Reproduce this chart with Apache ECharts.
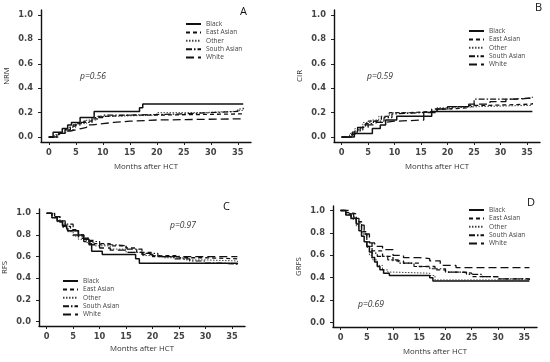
<!DOCTYPE html>
<html><head><meta charset="utf-8">
<script src="https://cdn.jsdelivr.net/npm/echarts@6/dist/echarts.min.js"></script>
<style>html,body{margin:0;padding:0;background:#fff}#c{width:550px;height:362px}</style>
</head><body><div id="c"></div>
<script>
const groups = ['Black', 'East Asian', 'Other', 'South Asian', 'White'];
const xTicks = [0, 5, 10, 15, 20, 25, 30, 35];
const yTicks = [0, 0.2, 0.4, 0.6, 0.8, 1.0];
const panelNames = ['NRM', 'CIR', 'RFS', 'GRFS'];
const panelLetters = ['A', 'B', 'C', 'D'];
const pValues = ['p=0.56', 'p=0.59', 'p=0.97', 'p=0.69'];
const xTitle = 'Months after HCT';

// Panel A: NRM  [month, value]
const nrmBlack = [[0,0],[0.8,0.04],[2.5,0.07],[3.5,0.1],[4.2,0.12],[5.8,0.16],[8.4,0.21],[16.8,0.24],[17.4,0.27],[36,0.27]];
const nrmEastAsian = [[0,0],[1.5,0.03],[3,0.06],[4,0.09],[5,0.11],[6.5,0.13],[8,0.15],[9,0.17],[11,0.18],[15,0.18],[20,0.19],[36,0.19]];
const nrmOther = [[0,0],[1,0.02],[2,0.04],[3.5,0.08],[5,0.11],[7,0.14],[9,0.17],[12,0.18],[20,0.2],[28,0.21],[34,0.22],[36,0.22]];
const nrmSouthAsian = [[0,0],[1.8,0.03],[3,0.06],[4.5,0.1],[6,0.12],[8,0.16],[10,0.18],[15,0.185],[20,0.19],[25,0.2],[30,0.21],[35,0.23],[36,0.24]];
const nrmWhite = [[0,0],[1,0.01],[2,0.03],[3,0.05],[4,0.06],[5,0.07],[6,0.08],[7,0.1],[8,0.11],[10,0.12],[12,0.13],[15,0.14],[20,0.15],[36,0.155]];

// Panel B: CIR
const cirBlack = [[0,0],[2.4,0.03],[5.8,0.07],[7.3,0.1],[8.3,0.14],[10.4,0.17],[17,0.21],[36,0.21]];
const cirEastAsian = [[0,0],[1.8,0.03],[3,0.06],[4,0.1],[5,0.13],[6.5,0.14],[7.5,0.17],[9,0.2],[13,0.21],[17,0.23],[20,0.24],[24,0.26],[28,0.27],[36,0.28]];
const cirOther = [[0,0],[1.5,0.03],[2.5,0.07],[4,0.12],[5.5,0.14],[7,0.17],[9,0.2],[14,0.21],[18,0.24],[22,0.25],[26,0.26],[36,0.26]];
const cirSouthAsian = [[0,0],[2,0.04],[3,0.08],[4.5,0.11],[6,0.13],[8,0.16],[9.5,0.19],[10,0.2],[15,0.21],[18,0.23],[21,0.25],[25,0.31],[28,0.31],[32,0.32],[36,0.33]];
const cirWhite = [[0,0],[1.5,0.02],[2.5,0.05],[3.5,0.08],[5,0.1],[6.5,0.12],[8,0.13],[10,0.14],[15.5,0.2],[18,0.23],[20,0.25],[24,0.27],[28,0.29],[31,0.31],[33,0.32],[36,0.32]];

// Panel C: RFS
const rfsBlack = [[0,1],[1,0.96],[2,0.93],[3,0.89],[3.8,0.86],[4,0.84],[6,0.8],[7,0.76],[8,0.72],[8.5,0.65],[10.5,0.62],[16.8,0.58],[17.5,0.54],[36,0.53]];
const rfsEastAsian = [[0,1],[1.5,0.97],[2.5,0.92],[3.5,0.88],[4.5,0.85],[6,0.8],[7,0.77],[8,0.75],[9,0.72],[12,0.7],[15,0.68],[17,0.64],[20,0.61],[25,0.59],[30,0.58],[36,0.57]];
const rfsOther = [[0,1],[1,0.96],[2,0.92],[3,0.87],[4,0.83],[5,0.79],[6,0.76],[7.5,0.73],[9,0.7],[12,0.67],[15,0.64],[18,0.61],[22,0.59],[26,0.57],[30,0.56],[36,0.55]];
const rfsSouthAsian = [[0,1],[1.5,0.97],[2.5,0.93],[3.5,0.9],[5,0.84],[6,0.79],[7,0.77],[8,0.74],[10,0.71],[13,0.7],[15,0.67],[18,0.63],[21,0.6],[24,0.58],[27,0.56],[30,0.54],[33,0.53],[36,0.52]];
const rfsWhite = [[0,1],[1,0.97],[2,0.93],[3,0.88],[4,0.84],[5,0.8],[6,0.77],[7,0.74],[8,0.71],[10,0.68],[12,0.66],[15,0.64],[18,0.62],[20,0.6],[36,0.6]];

// Panel D: GRFS
const grfsBlack = [[0,1],[1,0.96],[2,0.93],[3,0.88],[3.5,0.82],[4,0.77],[4.5,0.72],[5,0.68],[5.5,0.63],[6,0.58],[6.5,0.54],[7,0.5],[7.5,0.47],[8.2,0.44],[9.3,0.42],[17,0.4],[17.6,0.37],[36,0.37]];
const grfsEastAsian = [[0,1],[1,0.98],[2,0.97],[3,0.9],[4,0.81],[5,0.72],[6,0.64],[8,0.59],[10,0.55],[12,0.53],[15,0.5],[18,0.47],[20,0.45],[23,0.44],[25,0.41],[30,0.39],[36,0.39]];
const grfsOther = [[0,1],[1,0.96],[2,0.92],[3,0.86],[4,0.77],[5,0.67],[5.5,0.6],[6,0.56],[7,0.51],[8,0.47],[9,0.45],[10,0.44],[17,0.42],[18,0.38],[36,0.38]];
const grfsSouthAsian = [[0,1],[1,0.97],[2,0.94],[3,0.89],[4,0.79],[5,0.68],[6,0.62],[7,0.59],[9,0.56],[11,0.53],[14,0.5],[17,0.48],[20,0.45],[24,0.43],[27,0.41],[30,0.39],[36,0.38]];
const grfsWhite = [[0,1],[1.5,0.97],[2.5,0.93],[3.5,0.87],[4.5,0.79],[5.5,0.71],[6.5,0.68],[8,0.65],[10,0.6],[12,0.58],[15,0.57],[17,0.55],[19,0.51],[22,0.49],[36,0.49]];

const panelData = [
  [nrmBlack, nrmEastAsian, nrmOther, nrmSouthAsian, nrmWhite],
  [cirBlack, cirEastAsian, cirOther, cirSouthAsian, cirWhite],
  [rfsBlack, rfsEastAsian, rfsOther, rfsSouthAsian, rfsWhite],
  [grfsBlack, grfsEastAsian, grfsOther, grfsSouthAsian, grfsWhite]
];

// layout / style (not data)
const grids = [
  {left: 41, top: 10, width: 210, height: 132},
  {left: 334, top: 10, width: 206, height: 132},
  {left: 39, top: 209, width: 206, height: 117},
  {left: 333, top: 206, width: 204, height: 121}
];
const nameGaps = [21, 21, 19, 21];
const legendPos = [{left: 185, top: 20}, {left: 468, top: 27}, {left: 62, top: 277}, {left: 468, top: 206}];
const letterPos = [[245, 13], [540, 9], [228, 208], [532, 204]];
const pPos = [[80, 77], [367, 77], [170, 226], [358, 305]];
const lineStyles = {
  'Black': {color: '#111', width: 1.5, type: 'solid'},
  'East Asian': {color: '#111', width: 1.3, type: [4, 3]},
  'Other': {color: '#444', width: 1, type: [1.5, 1.5]},
  'South Asian': {color: '#111', width: 1.2, type: [6, 2, 1.5, 2]},
  'White': {color: '#111', width: 1.3, type: [8, 4]}
};
const fontTick = 'DejaVu Sans, Arial, sans-serif';
const fontText = 'Open Sans, DejaVu Sans, sans-serif';

const xAxes = [], yAxes = [], series = [], legends = [], graphics = [];
grids.forEach((g, i) => {
  xAxes.push({
    type: 'value', gridIndex: i, min: -1.44, max: 37.44,
    name: xTitle, nameLocation: 'middle', nameGap: nameGaps[i],
    nameTextStyle: {fontFamily: fontText, fontSize: 7.8, color: '#333'},
    axisLine: {show: true, onZero: false, lineStyle: {color: '#111', width: 1.4}},
    axisTick: {show: true, length: 3, customValues: xTicks, lineStyle: {color: '#222'}},
    axisLabel: {customValues: xTicks, margin: 7, fontFamily: fontTick, fontWeight: 'bold', fontSize: 8.3, color: '#444'},
    splitLine: {show: false}
  });
  yAxes.push({
    type: 'value', gridIndex: i, min: -0.04, max: 1.04,
    name: panelNames[i], nameLocation: 'middle', nameGap: 30, nameRotate: 90,
    nameTextStyle: {fontFamily: fontText, fontSize: 7.8, color: '#333'},
    axisLine: {show: true, onZero: false, lineStyle: {color: '#111', width: 1.4}},
    axisTick: {show: true, length: 3, customValues: yTicks, lineStyle: {color: '#222'}},
    axisLabel: {customValues: yTicks, margin: 8, fontFamily: fontTick, fontWeight: 'bold', fontSize: 8.3, color: '#444',
      formatter: v => v.toFixed(1)},
    splitLine: {show: false}
  });
  groups.forEach((gName, k) => {
    series.push({
      type: 'line', name: gName, xAxisIndex: i, yAxisIndex: i,
      data: panelData[i][k], step: 'end', symbol: 'none', silent: true,
      color: '#111', itemStyle: {color: '#111'},
      lineStyle: lineStyles[gName], z: gName === 'Black' ? 5 : 3
    });
  });
  legends.push({
    show: true, data: groups, orient: 'vertical', left: legendPos[i].left, top: legendPos[i].top,
    itemWidth: 15, itemHeight: 8, itemGap: 0.4, padding: 0, selectedMode: false,
    itemStyle: {opacity: 0},
    textStyle: {fontFamily: fontText, fontSize: 6.6, color: '#444', lineHeight: 8}
  });
  graphics.push({
    type: 'text', left: letterPos[i][0] - 5, top: letterPos[i][1] - 7,
    style: {text: panelLetters[i], font: '11px ' + fontText, fill: '#111'}
  });
  graphics.push({
    type: 'text', left: pPos[i][0], top: pPos[i][1] - 5,
    style: {text: pValues[i], font: 'italic 8.5px ' + fontText, fill: '#333'}
  });
});

const chart = echarts.init(document.getElementById('c'), null, {renderer: 'canvas'});
chart.setOption({
  animation: false,
  backgroundColor: '#fff',
  grid: grids,
  xAxis: xAxes,
  yAxis: yAxes,
  legend: legends,
  series: series,
  graphic: graphics
});
</script>
</body></html>
